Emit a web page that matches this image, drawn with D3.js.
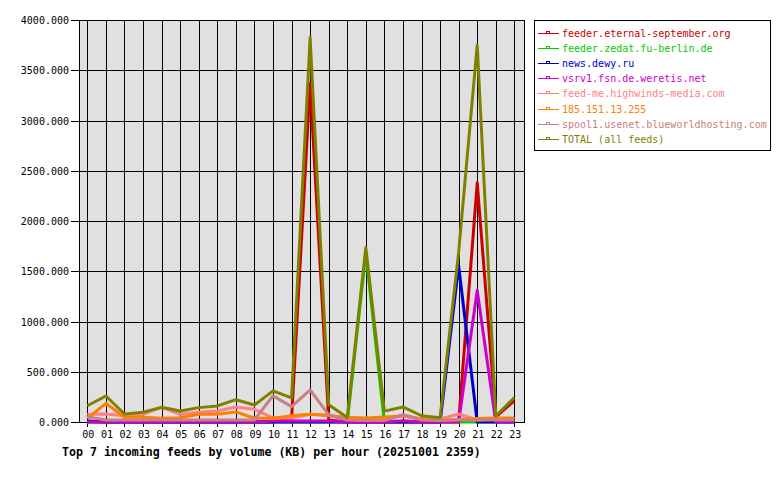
<!DOCTYPE html>
<html><head><meta charset="utf-8">
<script src="https://cdn.jsdelivr.net/npm/d3@7/dist/d3.min.js"></script>
<style>
html,body{margin:0;padding:0;background:#fff;}
svg text{font-family:"DejaVu Sans Mono",monospace;}
</style></head>
<body><svg id="c" width="780" height="480"></svg>
<script>
const hours = ["00","01","02","03","04","05","06","07","08","09","10","11","12","13","14","15","16","17","18","19","20","21","22","23"];
const seriesNames = ["feeder.eternal-september.org","feeder.zedat.fu-berlin.de","news.dewy.ru","vsrv1.fsn.de.weretis.net","feed-me.highwinds-media.com","185.151.13.255","spool1.usenet.blueworldhosting.com","TOTAL (all feeds)"];
const seriesColors = ["#cc0000","#00cc00","#0000cc","#cc00cc","#ff8080","#ff8000","#c88080","#808000"];
const eternal   = [0,0,0,0,0,0,0,0,0,0,0,30,3370,20,0,0,0,0,0,0,0,2380,50,212];
const zedat     = [0,0,0,0,0,0,0,0,0,0,0,0,0,0,0,1680,0,0,0,0,0,0,0,0];
const dewy      = [10,0,0,0,0,0,0,0,0,0,0,0,0,0,0,0,0,0,0,0,1555,0,0,0];
const weretis   = [0,0,0,0,0,0,0,0,0,0,10,10,10,10,0,0,0,12,0,0,0,1310,0,0];
const highwinds = [77,80,63,77,146,77,97,110,150,126,40,40,77,70,30,20,20,70,30,30,80,20,30,35];
const ip185     = [37,186,47,47,37,43,77,77,100,37,37,63,77,63,47,40,50,60,30,20,25,35,40,40];
const spool1    = [53,20,20,20,20,20,20,20,20,20,262,153,320,70,20,15,15,70,20,15,20,20,20,20];
const total     = [162,259,80,97,146,110,143,160,222,169,310,240,3825,172,45,1735,108,150,62,43,1690,3750,60,244];
const yTicks = [0,500,1000,1500,2000,2500,3000,3500,4000];
const title = "Top 7 incoming feeds by volume (KB) per hour (20251001 2359)";

const allSeries = [eternal,zedat,dewy,weretis,highwinds,ip185,spool1,total];
const svg = d3.select("#c");
const L=79,R=524,T=20,B=422;
const x = d3.scaleLinear().domain([-0.45,23.52]).range([L,R]);
const y = d3.scaleLinear().domain([0,4000]).range([B,T]);

svg.append("rect").attr("x",L).attr("y",T).attr("width",R-L).attr("height",B-T).attr("fill","#e0e0e0");
// grid
svg.append("g").selectAll("line").data(yTicks).join("line")
  .attr("x1",L-8).attr("x2",R).attr("y1",d=>Math.round(y(d))+0.5).attr("y2",d=>Math.round(y(d))+0.5)
  .attr("stroke","#000").attr("stroke-width",1);
svg.append("g").selectAll("line").data(hours).join("line")
  .attr("x1",(d,i)=>Math.round(x(i))+0.5).attr("x2",(d,i)=>Math.round(x(i))+0.5)
  .attr("y1",T).attr("y2",B+5).attr("stroke","#000").attr("stroke-width",1);
svg.append("rect").attr("x",L+0.5).attr("y",T+0.5).attr("width",R-L).attr("height",B-T)
  .attr("fill","none").attr("stroke","#000");
// labels
svg.append("g").selectAll("text").data(yTicks).join("text")
  .attr("x",69).attr("y",d=>y(d)+4).attr("text-anchor","end").attr("font-size","10px").attr("fill","#000")
  .text(d=>d3.format(".3f")(d));
svg.append("g").selectAll("text").data(hours).join("text")
  .attr("x",(d,i)=>x(i)+1).attr("y",438).attr("text-anchor","middle").attr("font-size","10px").attr("fill","#000")
  .text(d=>d);
svg.append("text").attr("x",62).attr("y",456).attr("font-size","11.6px").attr("font-weight","bold").attr("fill","#000").text(title);
// lines
const line = d3.line().x((d,i)=>x(i)).y(d=>y(d));
svg.append("g").selectAll("path").data(allSeries).join("path")
  .attr("d",d=>line(d)).attr("fill","none").attr("stroke",(d,i)=>seriesColors[i])
  .attr("stroke-width",3).attr("stroke-linejoin","round");
// legend
const lg = svg.append("g").attr("shape-rendering","crispEdges");
lg.append("rect").attr("x",534.5).attr("y",20.5).attr("width",236).attr("height",130).attr("fill","#fff").attr("stroke","#000");
const rows = lg.selectAll("g").data(seriesNames).join("g").attr("transform",(d,i)=>`translate(0,${Math.round(33+i*15.1)})`);
rows.append("rect").attr("x",538).attr("y",0).attr("width",21).attr("height",1).attr("fill",(d,i)=>seriesColors[i]);
rows.append("rect").attr("x",546).attr("y",-2).attr("width",4).attr("height",3).attr("fill",(d,i)=>seriesColors[i]);
rows.append("rect").attr("x",547).attr("y",-1).attr("width",2).attr("height",1).attr("fill","#fff");
rows.append("text").attr("x",562).attr("y",4).attr("font-size","10px").attr("fill",(d,i)=>seriesColors[i]).text(d=>d);
</script></body></html>
